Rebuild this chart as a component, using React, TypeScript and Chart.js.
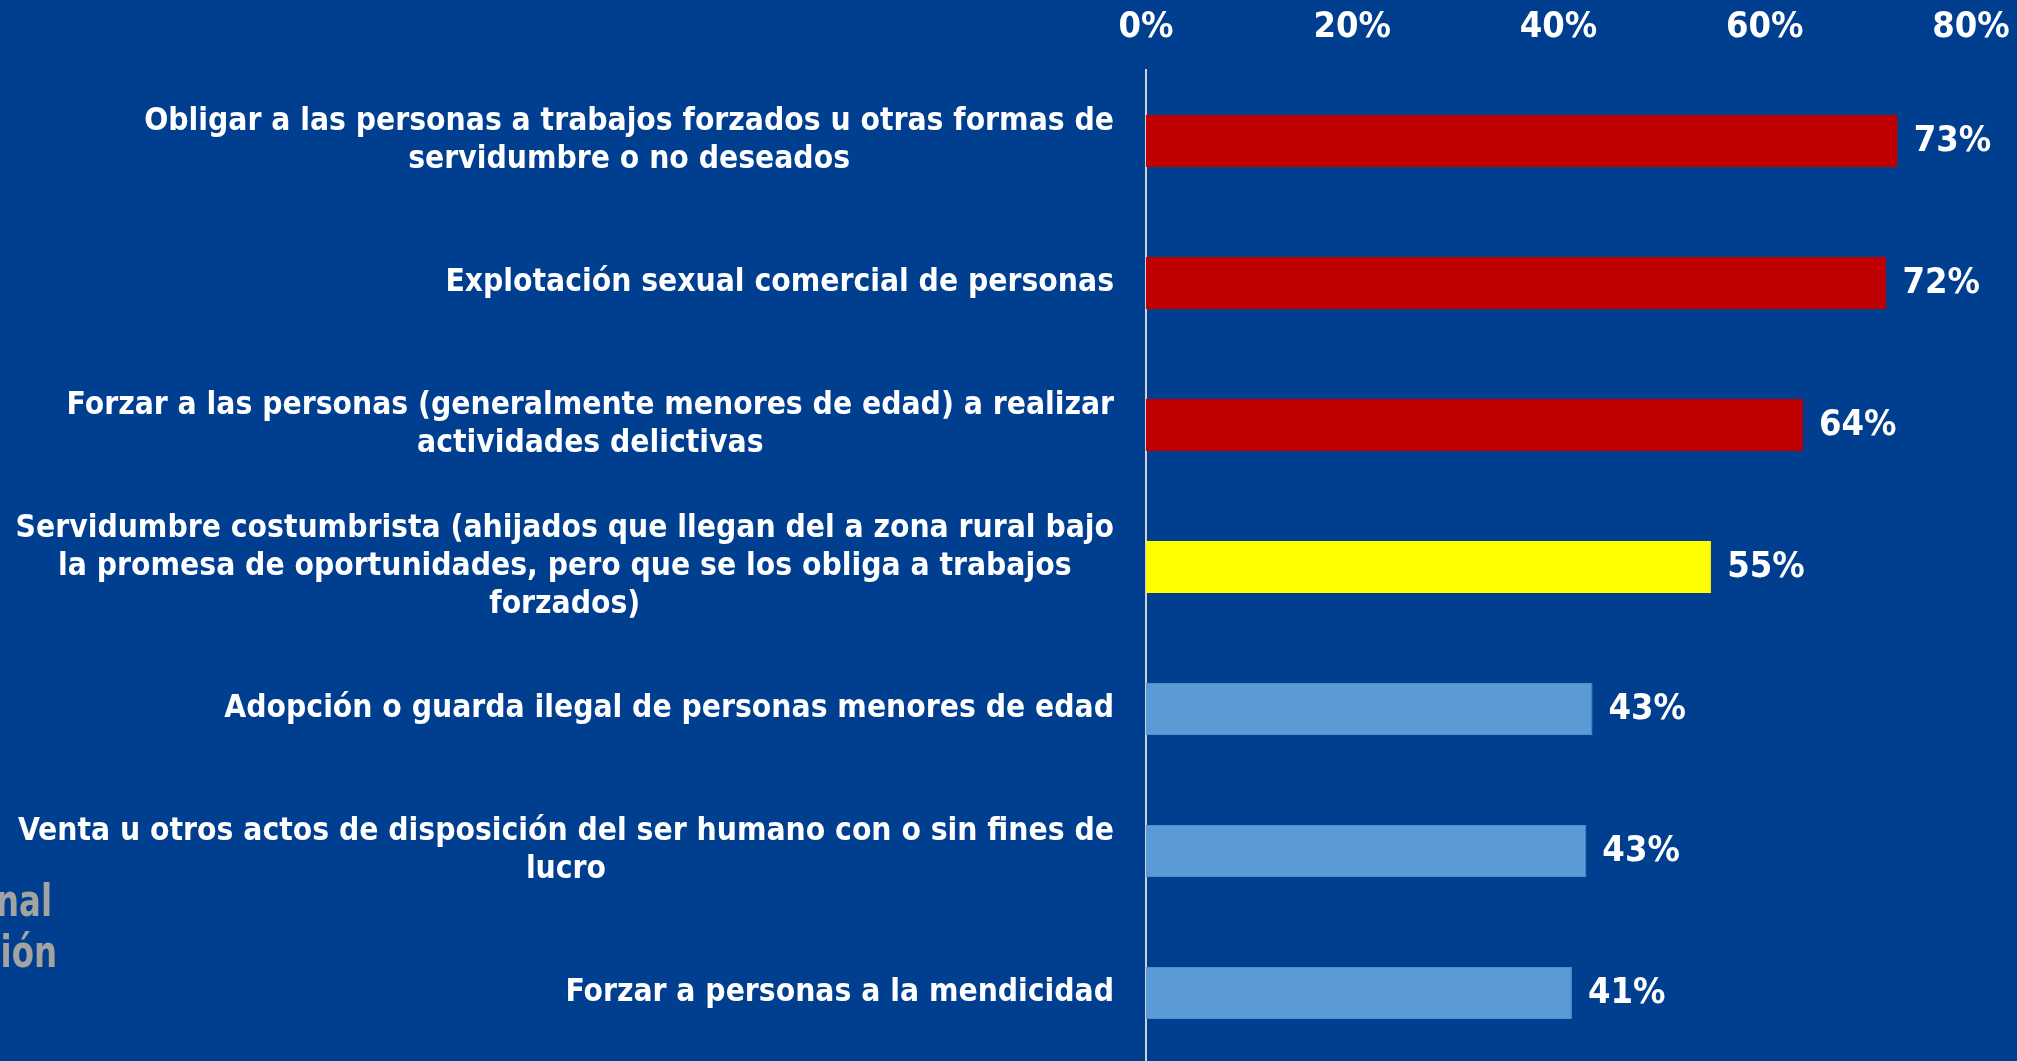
import React, { useEffect, useRef } from "react";
import { Chart, registerables } from "chart.js";

Chart.register(...registerables);

const categories: string[][] = [
  ["Obligar a las personas a trabajos forzados u otras formas de", "servidumbre o no deseados"],
  ["Explotación sexual comercial de personas"],
  ["Forzar a las personas (generalmente menores de edad) a realizar", "actividades delictivas"],
  ["Servidumbre costumbrista (ahijados que llegan del a zona rural bajo", "la promesa de oportunidades, pero que se los obliga a trabajos", "forzados)"],
  ["Adopción o guarda ilegal de personas menores de edad"],
  ["Venta u otros actos de disposición del ser humano con o sin fines de", "lucro"],
  ["Forzar a personas a la mendicidad"],
];

const values: number[] = [72.9, 71.8, 63.7, 54.8, 43.3, 42.7, 41.3];

const barColors: string[] = ["#C00000", "#C00000", "#C00000", "#FFFF00", "#5B9BD5", "#5B9BD5", "#5B9BD5"];
const borderColors: string[] = ["#C00000", "#C00000", "#C00000", "#FFFF00", "#5090CE", "#5090CE", "#5090CE"];

const tickValues: number[] = [0, 20, 40, 60, 80];
const watermarkLines: string[] = ["nal", "ción"];

const BG = "#003E8F";
const FAMILY = "'DejaVu Sans Condensed', 'DejaVu Sans', sans-serif";
const LABEL_FONT = "bold 31.5px " + FAMILY;
const VALUE_FONT = "bold 36px " + FAMILY;

const overlayPlugin = {
  id: "overlay",
  afterDraw(chart: any) {
    const ctx = chart.ctx;
    const yScale = chart.scales.y;
    const xScale = chart.scales.x;
    const area = chart.chartArea;
    ctx.save();
    // category labels
    ctx.font = LABEL_FONT;
    ctx.fillStyle = "#FFFFFF";
    ctx.textAlign = "center";
    ctx.textBaseline = "middle";
    const lineH = 38;
    const rightEdge = area.left - 32;
    categories.forEach((lines, i) => {
      const y = yScale.getPixelForValue(i);
      const maxW = Math.max(...lines.map((l) => ctx.measureText(l).width));
      const cx = rightEdge - maxW / 2;
      const startY = y - ((lines.length - 1) * lineH) / 2;
      lines.forEach((l, j) => ctx.fillText(l, cx, startY + j * lineH));
    });
    // value labels
    ctx.font = VALUE_FONT;
    ctx.textAlign = "left";
    values.forEach((v, i) => {
      const x = xScale.getPixelForValue(v);
      const y = yScale.getPixelForValue(i);
      ctx.fillText(Math.round(v) + "%", x + 16, y + 1);
    });
    ctx.restore();
    // watermark remnant (narrow gray text partly off-canvas)
    ctx.save();
    ctx.font = "bold 45px 'Liberation Sans Narrow', 'DejaVu Sans Condensed', sans-serif";
    ctx.fillStyle = "#A3A3A3";
    ctx.textAlign = "right";
    ctx.textBaseline = "alphabetic";
    const anchors = [
      [52, 916],
      [57, 967],
    ];
    watermarkLines.forEach((t, i) => {
      ctx.save();
      ctx.translate(anchors[i][0], anchors[i][1]);
      ctx.scale(0.8, 1);
      ctx.fillText(t, 0, 0);
      ctx.restore();
    });
    ctx.restore();
  },
};

export default function App() {
  const ref = useRef<HTMLCanvasElement | null>(null);
  useEffect(() => {
    if (!ref.current) return;
    const chart = new Chart(ref.current, {
      type: "bar",
      data: {
        labels: categories.map((c) => c.join(" ")),
        datasets: [
          {
            data: values,
            backgroundColor: barColors,
            borderColor: borderColors,
            borderWidth: 1,
            barPercentage: 0.366,
            categoryPercentage: 1,
          },
        ],
      },
      options: {
        indexAxis: "y",
        animation: false,
        responsive: false,
        maintainAspectRatio: false,
        layout: { padding: { left: 0, right: 46, top: 0, bottom: 0 } },
        plugins: { legend: { display: false }, tooltip: { enabled: false } },
        scales: {
          x: {
            position: "top",
            min: 0,
            max: 80,
            afterFit: (s: any) => {
              s.height = 70;
              s.paddingLeft = 0;
              s.paddingRight = 0;
            },
            afterBuildTicks: (s: any) => {
              s.ticks = tickValues.map((v) => ({ value: v }));
            },
            grid: { display: false, drawTicks: false },
            border: { display: false },
            ticks: {
              color: "#FFFFFF",
              padding: 21,
              font: { family: FAMILY, size: 36, weight: "bold" },
              callback: (v: any) => v + "%",
            },
          },
          y: {
            position: "left",
            afterFit: (s: any) => {
              s.width = 1146;
            },
            grid: { display: false, drawTicks: false },
            border: { display: true, color: "#D0D0D0", width: 2 },
            ticks: { display: false },
          },
        },
      },
      plugins: [overlayPlugin],
    });
    return () => chart.destroy();
  }, []);
  return (
    <div
      style={{
        position: "fixed",
        left: 0,
        top: 0,
        width: 2017,
        height: 1061,
        overflow: "hidden",
        background: BG,
      }}
    >
      <canvas ref={ref} width={2017} height={1064} style={{ display: "block" }} />
    </div>
  );
}
